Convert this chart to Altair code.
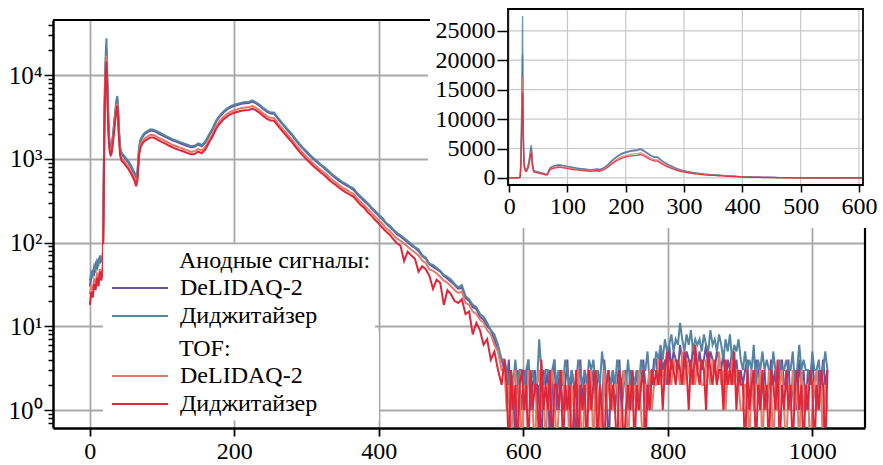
import altair as alt
import pandas as pd

FONT = "Liberation Serif"

DEVICES = ["DeLIDAQ-2", "Диджитайзер"]
ZW = "\u200b"
IND = "\u00a0" * 12
ANODE_TITLE = ZW + IND + "Анодные сигналы:" + ZW
TOF_TITLE = ZW + IND + "TOF:" + "\u00a0" * 24 + ZW
ANODE_COLORS = ["#6c4f9e", "#5485a2"]
TOF_COLORS = ["#e07d6a", "#e2263a"]

X_TICKS = [0, 200, 400, 600, 800, 1000]
Y_TICKS = [0.7, 0.8, 0.9, 1, 2, 3, 4, 5, 6, 7, 8, 9,
           10, 20, 30, 40, 50, 60, 70, 80, 90,
           100, 200, 300, 400, 500, 600, 700, 800, 900,
           1000, 2000, 3000, 4000, 5000, 6000, 7000, 8000, 9000,
           10000, 20000, 30000, 40000]
INSET_X_TICKS = [0, 100, 200, 300, 400, 500, 600]
INSET_Y_TICKS = [0, 5000, 10000, 15000, 20000, 25000]
MAIN_X_DOMAIN = [-51, 1073]
MAIN_Y_DOMAIN = [0.61, 45400]
INSET_X_DOMAIN = [-2, 607]
INSET_Y_DOMAIN = [-1200, 28700]

# channel grid
HEAD_CH = [0, 2, 4, 6, 8, 10, 12, 14, 16, 18,
           19, 20, 21, 22, 23, 24, 25, 26, 27, 28, 29, 30,
           32, 34, 36, 37, 38, 39, 40, 42, 44, 47, 50, 54, 58, 62, 64, 66, 68, 70,
           73, 76, 80, 84, 88, 92, 96]
MID_CH = list(range(100, 571, 5))
TAIL_CH = list(range(574, 1022, 3))

# anode, digitizer
AD_HEAD = [35, 44, 40, 52, 47, 60, 55, 70, 58, 75,
           400, 3000, 9000, 18000, 27500, 11000, 4500, 2400, 1700, 1450, 1380, 1420,
           1900, 2900, 4300, 5200, 5600, 4200, 2500, 1350, 1180, 1100, 1020, 920, 800, 680, 620, 720, 1350, 1700,
           1900, 2050, 2150, 2250, 2230, 2150, 2060]
AD_MID = [1980, 1880, 1790, 1700, 1640, 1580, 1520, 1470, 1410, 1430,
          1530, 1460, 1620, 1950, 2320, 2880, 3300, 3680, 4000, 4250,
          4420, 4560, 4680, 4750, 4780, 4980, 4720, 4420, 4050, 3760,
          3580, 3560, 3120, 2760, 2460, 2200, 1960, 1720, 1520, 1360,
          1230, 1110, 1010, 935, 850, 790, 725, 655, 610, 565,
          525, 500, 465, 445, 390, 355, 322, 292, 262, 238,
          214, 196, 172, 160, 143, 131, 122, 113, 104, 96,
          88, 83, 71, 66, 56, 54, 50, 46, 41, 39,
          36, 32, 29, 31, 23, 21, 18, 17, 14, 13,
          11, 9, 8, 6, 4]
AD_TAIL = [4, 3, 2, 3, 2, 4, 2, 3, 3, 2,
           3, 4, 2, 3, 2, 2, 7, 3, 2, 3,
           3, 2, 3, 4, 2, 3, 2, 2, 4, 3,
           2, 3, 2, 2, 4, 3, 2, 3, 2, 4,
           3, 4, 2, 3, 2, 5, 3, 2, 3, 2,
           3, 2, 4, 3, 2, 3, 2, 4, 2, 3,
           2, 3, 2, 4, 3, 3, 5, 2, 3, 3,
           5, 4, 6, 4, 7, 5, 6, 8, 5, 7,
           6, 11, 7, 5, 8, 6, 9, 5, 7, 6,
           7, 5, 8, 6, 5, 9, 6, 7, 5, 8,
           6, 4, 7, 5, 8, 4, 6, 5, 7, 4,
           3, 5, 3, 4, 3, 6, 2, 4, 3, 5,
           3, 4, 3, 2, 5, 3, 2, 4, 3, 3,
           4, 3, 3, 5, 2, 3, 6, 3, 4, 3,
           3, 2, 5, 3, 3, 4, 2, 3, 5, 3]

# anode, DeLIDAQ-2
AL_HEAD = [30, 38, 45, 42, 55, 50, 62, 58, 64, 60,
           300, 2500, 7500, 14500, 21000, 9500, 4000, 2200, 1600, 1400, 1330, 1370,
           1850, 2800, 4100, 4900, 5200, 3900, 2350, 1300, 1130, 1060, 980, 880, 770, 650, 600, 690, 1280, 1640,
           1830, 1980, 2080, 2170, 2150, 2080, 1990]
AL_MID = [1910, 1820, 1730, 1650, 1590, 1530, 1470, 1420, 1370, 1390,
          1480, 1410, 1570, 1890, 2250, 2790, 3200, 3570, 3880, 4120,
          4290, 4420, 4540, 4610, 4640, 4830, 4580, 4290, 3930, 3650,
          3470, 3450, 3030, 2680, 2390, 2130, 1900, 1670, 1470, 1320,
          1190, 1075, 980, 905, 830, 765, 700, 640, 590, 545,
          510, 480, 455, 425, 380, 345, 310, 285, 255, 230,
          208, 190, 168, 154, 140, 126, 118, 109, 101, 92,
          86, 79, 69, 64, 55, 51, 48, 45, 40, 37,
          34, 31, 28, 29, 22, 20, 17, 16, 13, 12,
          10, 9, 7, 5, 4]
AL_TAIL = [3, 2, 4, 1, 2, 0, 3, 2, 1, 3,
           2, 4, 1, 2, 3, 1, 2, 0, 3, 2,
           3, 0, 2, 4, 1, 3, 2, 1, 2, 4,
           1, 3, 2, 0, 2, 4, 1, 3, 2, 1,
           2, 3, 1, 3, 2, 1, 4, 2, 0, 2,
           3, 1, 2, 4, 1, 2, 3, 1, 3, 2,
           2, 3, 1, 2, 4, 2, 1, 3, 2, 4,
           4, 2, 5, 3, 4, 2, 6, 3, 5, 4,
           3, 6, 4, 3, 5, 4, 3, 6, 4, 3,
           5, 3, 4, 6, 3, 5, 4, 3, 5, 4,
           3, 5, 2, 4, 3, 5, 3, 4, 2, 3,
           2, 3, 4, 1, 3, 2, 4, 3, 1, 2,
           3, 1, 2, 4, 2, 3, 1, 3, 4, 2,
           2, 4, 1, 2, 3, 1, 4, 2, 3, 1,
           3, 2, 4, 2, 1, 3, 2, 4, 2, 3]

# TOF, DeLIDAQ-2
TL_HEAD = [24, 30, 28, 36, 33, 42, 38, 48, 40, 52,
           250, 2100, 6200, 12000, 17000, 8000, 3500, 1950, 1450, 1250, 1180, 1220,
           1650, 2450, 3600, 4200, 4500, 3400, 2100, 1160, 1010, 950, 880, 790, 690, 580, 530, 610, 1150, 1460,
           1640, 1760, 1850, 1930, 1920, 1850, 1770]
TL_MID = [1700, 1620, 1540, 1460, 1410, 1360, 1310, 1260, 1210, 1230,
          1310, 1250, 1390, 1680, 2000, 2480, 2840, 3170, 3440, 3660,
          3800, 3920, 4030, 4090, 4110, 4280, 4060, 3800, 3480, 3230,
          3080, 3060, 2680, 2370, 2120, 1890, 1690, 1480, 1310, 1170,
          1060, 955, 870, 800, 730, 680, 620, 565, 525, 485,
          450, 430, 400, 382, 335, 305, 277, 250, 226, 204,
          184, 168, 148, 137, 123, 112, 105, 97, 89, 82,
          76, 70, 61, 57, 48, 46, 43, 39, 35, 33,
          30, 27, 25, 26, 19, 18, 15, 14, 12, 11,
          9, 8, 6, 5, 3]
TL_TAIL = [3, 1, 2, 0, 2, 3, 1, 2, 0, 2,
           1, 3, 2, 1, 0, 2, 3, 1, 2, 0,
           2, 1, 3, 2, 0, 1, 2, 3, 1, 2,
           0, 2, 1, 2, 3, 1, 0, 2, 2, 1,
           3, 0, 2, 1, 2, 0, 3, 1, 2, 2,
           1, 2, 2, 0, 1, 3, 2, 0, 2, 1,
           2, 1, 3, 1, 0, 2, 2, 3, 1, 2,
           2, 4, 2, 3, 2, 4, 3, 2, 4, 3,
           3, 2, 5, 2, 4, 3, 2, 3, 2, 4,
           3, 2, 2, 4, 3, 2, 4, 3, 2, 5,
           2, 3, 1, 3, 2, 4, 2, 3, 2, 1,
           1, 2, 2, 0, 3, 1, 2, 2, 3, 0,
           2, 1, 3, 2, 0, 2, 1, 2, 3, 1,
           0, 2, 1, 3, 1, 2, 0, 3, 1, 2,
           2, 0, 1, 2, 3, 1, 2, 0, 2, 1]

# TOF, digitizer
TD_HEAD = [18, 26, 22, 32, 27, 38, 30, 45, 35, 48,
           200, 1900, 5500, 10500, 14500, 7400, 3300, 1800, 1330, 1150, 1100, 1140,
           1550, 2300, 3350, 3950, 4300, 3250, 1950, 1080, 950, 890, 820, 740, 640, 540, 470, 560, 1080, 1360,
           1530, 1640, 1720, 1800, 1790, 1720, 1650]
TD_MID = [1580, 1510, 1430, 1360, 1310, 1260, 1220, 1170, 1130, 1140,
          1220, 1160, 1290, 1560, 1860, 2300, 2640, 2950, 3200, 3400,
          3540, 3650, 3750, 3800, 3830, 3980, 3780, 3530, 3240, 3010,
          2860, 2850, 2500, 2210, 1970, 1760, 1570, 1380, 1220, 1090,
          985, 890, 810, 745, 680, 630, 575, 525, 490, 450,
          420, 395, 372, 352, 312, 280, 258, 228, 208, 186,
          168, 150, 135, 124, 110, 98, 92, 60, 78, 70,
          64, 45, 52, 48, 40, 28, 36, 33, 18, 27,
          24, 20, 19, 21, 14, 15, 8, 11, 9, 6,
          7, 4, 5, 3, 2]
TD_TAIL = [4, 2, 0, 3, 1, 2, 0, 2, 3, 1,
           2, 0, 3, 1, 2, 2, 0, 4, 1, 2,
           1, 3, 0, 2, 2, 1, 3, 0, 2, 1,
           2, 0, 1, 3, 0, 2, 1, 2, 0, 3,
           1, 2, 3, 0, 2, 1, 0, 2, 3, 1,
           2, 1, 0, 3, 2, 0, 1, 2, 1, 3,
           0, 2, 1, 2, 3, 0, 2, 1, 3, 2,
           3, 2, 4, 1, 3, 5, 2, 4, 3, 2,
           4, 3, 2, 5, 3, 1, 4, 2, 6, 3,
           2, 4, 3, 1, 5, 3, 2, 4, 2, 3,
           3, 1, 4, 2, 3, 2, 5, 1, 3, 2,
           2, 0, 3, 1, 2, 3, 0, 2, 1, 3,
           1, 2, 0, 3, 2, 1, 4, 0, 2, 1,
           3, 1, 2, 0, 2, 3, 1, 2, 0, 2,
           1, 3, 2, 0, 2, 1, 3, 2, 0, 3]

CH = HEAD_CH + MID_CH + TAIL_CH
SERIES = [
    ("anode", DEVICES[0], AL_HEAD + AL_MID + AL_TAIL, ANODE_COLORS[0], 0),
    ("anode", DEVICES[1], AD_HEAD + AD_MID + AD_TAIL, ANODE_COLORS[1], 1),
    ("tof", DEVICES[0], TL_HEAD + TL_MID + TL_TAIL, TOF_COLORS[0], 2),
    ("tof", DEVICES[1], TD_HEAD + TD_MID + TD_TAIL, TOF_COLORS[1], 3),
]
rows = []
for grp, dev, vals, col, k in SERIES:
    for c, v in zip(CH, vals):
        rows.append({"ch": c, "v": v, "grp": grp, "dev": dev, "col": col, "sid": k})
df = pd.DataFrame(rows)

MAJOR = "indexof([1, 10, 100, 1000, 10000], datum.value) >= 0"
LABEL_EXPR = ("datum.value == 1 ? '10\u2070' : datum.value == 10 ? '10\u00b9' : "
              "datum.value == 100 ? '10\u00b2' : datum.value == 1000 ? '10\u00b3' : "
              "datum.value == 10000 ? '10\u2074' : ''")

x_scale = alt.Scale(domain=MAIN_X_DOMAIN, nice=False, zero=False)
y_scale = alt.Scale(type="log", domain=MAIN_Y_DOMAIN, nice=False)

x_axis = alt.Axis(values=X_TICKS, title=None, format="d", labelFont=FONT, labelFontSize=24,
                  labelColor="black", labelPadding=3, labelFlush=False, labelOverlap=False,
                  tickSize=8, tickWidth=1.8, tickColor="black",
                  domainColor="black", domainWidth=2.5,
                  grid=True, gridColor="#a8a8a8", gridWidth=1.8)
y_axis = alt.Axis(values=Y_TICKS, title=None, labelExpr=LABEL_EXPR, labelFont=FONT, labelFontSize=25,
                  labelColor="black", labelPadding=2, labelFlush=False, labelOverlap=False,
                  tickSize={"condition": {"test": MAJOR, "value": 9}, "value": 5},
                  tickWidth=1.5, tickColor="black",
                  domainColor="black", domainWidth=2.5,
                  grid=True, gridColor="#a8a8a8", gridWidth=1.8,
                  gridOpacity={"condition": {"test": MAJOR, "value": 1}, "value": 0})


def make_legend(title, ly):
    return alt.Legend(title=title, orient="none", legendX=50, legendY=ly,
                      fillColor="white", padding=4,
                      labelFont=FONT, labelFontSize=24, labelColor="black", labelLimit=400,
                      titleFont=FONT, titleFontSize=24, titleFontWeight="normal",
                      titleColor="black", titleLimit=600, titlePadding=3.5,
                      rowPadding=4, symbolType="M-0.7,0H4.9", symbolSize=400,
                      symbolStrokeWidth=2.2, labelOffset=49)


base = alt.Chart(df)

anode = base.transform_filter(alt.datum.grp == "anode").transform_calculate(
    yv="max(datum.v, 0.3)"
).mark_line(strokeWidth=2.0, clip=True).encode(
    x=alt.X("ch:Q", scale=x_scale, axis=x_axis),
    y=alt.Y("yv:Q", scale=y_scale, axis=y_axis),
    color=alt.Color("dev:N", scale=alt.Scale(domain=DEVICES, range=ANODE_COLORS),
                    legend=make_legend(ANODE_TITLE, 224.5)),
)

tof = base.transform_filter(alt.datum.grp == "tof").transform_calculate(
    yv="max(datum.v, 0.3)"
).mark_line(strokeWidth=2.0, clip=True).encode(
    x=alt.X("ch:Q", scale=x_scale, axis=None),
    y=alt.Y("yv:Q", scale=y_scale, axis=None),
    color=alt.Color("dev:N", scale=alt.Scale(domain=DEVICES, range=TOF_COLORS),
                    legend=make_legend(TOF_TITLE, 312.5)),
)

one = pd.DataFrame({"a": [0]})
cover = alt.Chart(one).mark_rect(fill="white").encode(
    x=alt.value(375), x2=alt.value(830), y=alt.value(-20), y2=alt.value(208))
top_spine = alt.Chart(one).mark_rule(color="black", strokeWidth=2.2).encode(
    x=alt.value(0), x2=alt.value(377), y=alt.value(0))
right_spine = alt.Chart(one).mark_rule(color="black", strokeWidth=2.2).encode(
    x=alt.value(812), y=alt.value(208), y2=alt.value(408))

# ---- inset ----
ix_scale = alt.Scale(domain=INSET_X_DOMAIN, range=[455, 810], nice=False, zero=False)
iy_scale = alt.Scale(domain=INSET_Y_DOMAIN, range=[165, -11], nice=False, zero=False)

ix_axis = alt.Axis(orient="bottom", offset=-243, values=INSET_X_TICKS, title=None, format="d",
                   grid=False, domain=False, tickSize=7, tickWidth=1.5, tickColor="black",
                   labelFont=FONT, labelFontSize=24, labelColor="black", labelPadding=2,
                   labelFlush=False, labelOverlap=False, zindex=1)
iy_axis = alt.Axis(orient="left", offset=-455, values=INSET_Y_TICKS, title=None, format="d",
                   grid=False, domain=False, tickSize=11, tickWidth=1.5, tickColor="black",
                   labelFont=FONT, labelFontSize=24, labelColor="black", labelPadding=2,
                   labelFlush=False, labelOverlap=False, zindex=1)

igrid_x = alt.Chart(pd.DataFrame({"t": INSET_X_TICKS})).mark_rule(
    color="#c8c8c8", strokeWidth=1.2).encode(
    x=alt.X("t:Q", scale=ix_scale, axis=None),
    y=alt.YDatum(INSET_Y_DOMAIN[0], type="quantitative", scale=iy_scale, axis=None),
    y2=alt.Y2Datum(INSET_Y_DOMAIN[1]),
)
igrid_y = alt.Chart(pd.DataFrame({"t": INSET_Y_TICKS})).mark_rule(
    color="#c8c8c8", strokeWidth=1.2).encode(
    y=alt.Y("t:Q", scale=iy_scale, axis=None),
    x=alt.XDatum(INSET_X_DOMAIN[0], type="quantitative", scale=ix_scale, axis=None),
    x2=alt.X2Datum(INSET_X_DOMAIN[1]),
)
ilines = base.transform_filter(alt.datum.ch <= INSET_X_DOMAIN[1]).mark_line(
    strokeWidth=1.3, opacity=0.85).encode(
    x=alt.X("ch:Q", scale=ix_scale, axis=ix_axis),
    y=alt.Y("v:Q", scale=iy_scale, axis=iy_axis),
    color=alt.Color("col:N", scale=None, legend=None),
    detail="sid:N",
    order="sid:Q",
)
iframe = alt.Chart(one).mark_rect(fill=None, stroke="black", strokeWidth=1.8).encode(
    x=alt.XDatum(INSET_X_DOMAIN[0], type="quantitative", scale=ix_scale, axis=None),
    x2=alt.X2Datum(INSET_X_DOMAIN[1]),
    y=alt.YDatum(INSET_Y_DOMAIN[0], type="quantitative", scale=iy_scale, axis=None),
    y2=alt.Y2Datum(INSET_Y_DOMAIN[1]),
)

chart = alt.layer(
    anode, tof, cover, top_spine, right_spine, igrid_x, igrid_y, ilines, iframe
).resolve_scale(
    x="independent", y="independent", color="independent"
).properties(
    width=812, height=408,
    padding={"left": 53, "top": 20, "right": 18, "bottom": 37},
    autosize=alt.AutoSizeParams(type="none"),
    background="white",
).configure(
    font=FONT
).configure_legend(
    titleFont=FONT, labelFont=FONT
).configure_axis(
    labelFont=FONT
).configure_view(stroke=None)

chart.save("out.html", embed_options={"renderer": "svg", "actions": False})
